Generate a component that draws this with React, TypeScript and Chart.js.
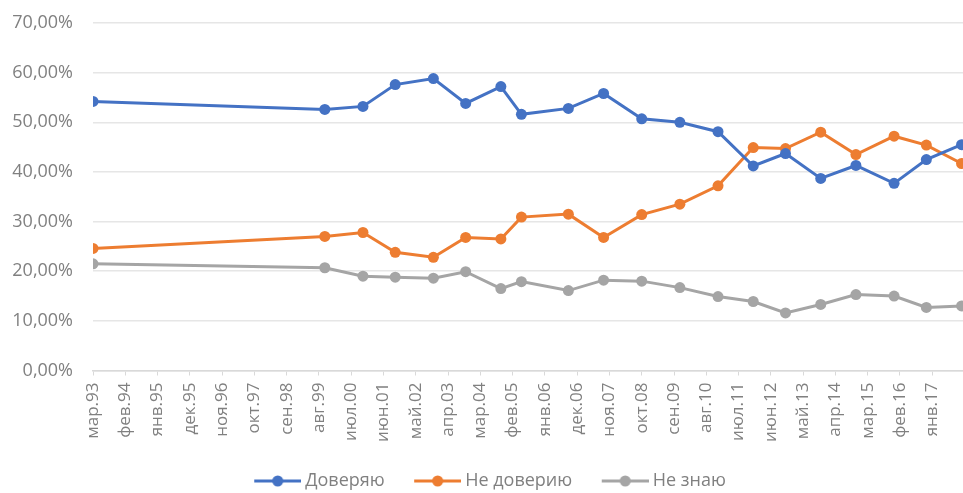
import React, { useEffect, useRef } from 'react';
import { Chart, registerables } from 'chart.js';

Chart.register(...registerables);

// Survey dates (year-month)
const surveyDates = [
  '1993-03', '1999-10', '2000-11', '2001-10', '2002-11', '2003-10', '2004-10',
  '2005-05', '2006-09', '2007-09', '2008-10', '2009-11', '2010-12', '2011-12',
  '2012-11', '2013-11', '2014-11', '2015-12', '2016-11', '2017-11',
];

const trustValues = [
  54.2, 52.6, 53.2, 57.6, 58.8, 53.8, 57.2, 51.6, 52.8, 55.8,
  50.7, 50.0, 48.1, 41.2, 43.7, 38.7, 41.3, 37.7, 42.5, 45.5,
];
const distrustValues = [
  24.6, 27.0, 27.8, 23.8, 22.8, 26.8, 26.5, 30.9, 31.5, 26.8,
  31.4, 33.5, 37.2, 44.9, 44.7, 48.0, 43.5, 47.2, 45.4, 41.7,
];
const dontKnowValues = [
  21.5, 20.7, 19.0, 18.8, 18.6, 19.9, 16.5, 17.9, 16.1, 18.2,
  18.0, 16.7, 14.9, 13.9, 11.6, 13.3, 15.3, 15.0, 12.7, 13.0,
];

const seriesNames = ['Доверяю', 'Не доверию', 'Не знаю'];

const xTickLabels = [
  'мар.93', 'фев.94', 'янв.95', 'дек.95', 'ноя.96', 'окт.97', 'сен.98', 'авг.99',
  'июл.00', 'июн.01', 'май.02', 'апр.03', 'мар.04', 'фев.05', 'янв.06', 'дек.06',
  'ноя.07', 'окт.08', 'сен.09', 'авг.10', 'июл.11', 'июн.12', 'май.13', 'апр.14',
  'мар.15', 'фев.16', 'янв.17',
];
const yTickValues = [0, 10, 20, 30, 40, 50, 60, 70];

// axis configuration (months since мар.93)
const TICK_STEP_MONTHS = 11;
const X_MAX_MONTHS = 297;

const seriesColors = ['#4472C4', '#ED7D31', '#A5A5A5'];
const FONT_FAMILY = '"Open Sans", sans-serif';
const TEXT_COLOR = '#808080';
const LEGEND_SHIFT = 2.5;

function monthIndex(d: string): number {
  const [y, m] = d.split('-').map(Number);
  return (y - 1993) * 12 + (m - 3);
}

function makeMarker(color: string): HTMLCanvasElement {
  const c = document.createElement('canvas');
  c.width = 57;
  c.height = 14;
  const ctx = c.getContext('2d')!;
  ctx.strokeStyle = color;
  ctx.lineWidth = 3;
  ctx.beginPath();
  ctx.moveTo(10, 7);
  ctx.lineTo(57, 7);
  ctx.stroke();
  ctx.fillStyle = color;
  ctx.beginPath();
  ctx.arc(33.5, 7, 5.5, 0, Math.PI * 2);
  ctx.fill();
  return c;
}

const shiftLegendPlugin = {
  id: 'shiftLegend',
  afterLayout(chart: any) {
    const l = chart.legend;
    if (l) {
      l.left += LEGEND_SHIFT;
      l.right += LEGEND_SHIFT;
    }
  },
};

export default function App() {
  const canvasRef = useRef<HTMLCanvasElement | null>(null);

  useEffect(() => {
    if (!canvasRef.current) return;
    const seriesValues = [trustValues, distrustValues, dontKnowValues];
    const markers = seriesColors.map(makeMarker);

    const chart = new Chart(canvasRef.current, {
      type: 'line',
      data: {
        datasets: seriesValues.map((vals, i) => ({
          label: seriesNames[i],
          data: surveyDates.map((d, j) => ({ x: monthIndex(d), y: vals[j] })),
          borderColor: seriesColors[i],
          backgroundColor: seriesColors[i],
          pointBackgroundColor: seriesColors[i],
          pointBorderColor: seriesColors[i],
          borderWidth: 3,
          pointRadius: 5.5,
          pointBorderWidth: 0,
          tension: 0,
        })),
      },
      plugins: [shiftLegendPlugin],
      options: {
        animation: false,
        responsive: true,
        maintainAspectRatio: false,
        layout: { padding: { top: 23, right: 0, bottom: 0, left: 0 } },
        plugins: {
          tooltip: { enabled: false },
          legend: {
            position: 'bottom',
            labels: {
              usePointStyle: true,
              pointStyleWidth: 47,
              padding: 24.5,
              color: TEXT_COLOR,
              font: { family: FONT_FAMILY, size: 18 },
              generateLabels: () =>
                seriesNames.map((name, i) => ({
                  text: name,
                  fillStyle: seriesColors[i],
                  strokeStyle: seriesColors[i],
                  lineWidth: 0,
                  pointStyle: markers[i],
                  hidden: false,
                  datasetIndex: i,
                  fontColor: TEXT_COLOR,
                })),
            },
          },
        },
        scales: {
          x: {
            type: 'linear',
            min: 0,
            max: X_MAX_MONTHS,
            afterBuildTicks: (scale: any) => {
              scale.ticks = xTickLabels.map((_, i) => ({ value: i * TICK_STEP_MONTHS }));
            },
            afterFit: (scale: any) => {
              scale.paddingLeft = 0;
              scale.paddingRight = 0;
              scale.height = 77;
            },
            ticks: {
              autoSkip: false,
              maxRotation: 90,
              minRotation: 90,
              padding: 7,
              color: TEXT_COLOR,
              font: { family: FONT_FAMILY, size: 17 },
              callback: (_v: any, index: number) => xTickLabels[index] ?? '',
            },
            grid: {
              drawOnChartArea: false,
              drawTicks: true,
              tickLength: 5,
              color: '#d9d9d9',
            },
            border: { display: true, color: '#d9d9d9', width: 1.5 },
          },
          y: {
            min: 0,
            max: 70,
            afterBuildTicks: (scale: any) => {
              scale.ticks = yTickValues.map((v) => ({ value: v }));
            },
            afterFit: (scale: any) => {
              scale.width = 93;
              scale.paddingTop = 0;
              scale.paddingBottom = 0;
            },
            ticks: {
              padding: 20,
              color: TEXT_COLOR,
              font: { family: FONT_FAMILY, size: 18 },
              callback: (v: any) => Number(v).toFixed(2).replace('.', ',') + '%',
            },
            grid: { color: '#e6e6e6', drawTicks: false, lineWidth: 1.5 },
            border: { display: false },
          },
        },
      },
    });
    return () => chart.destroy();
  }, []);

  return (
    <div style={{ position: 'fixed', left: 0, top: 0, width: 970, height: 500, background: '#fff' }}>
      <canvas ref={canvasRef} />
    </div>
  );
}
